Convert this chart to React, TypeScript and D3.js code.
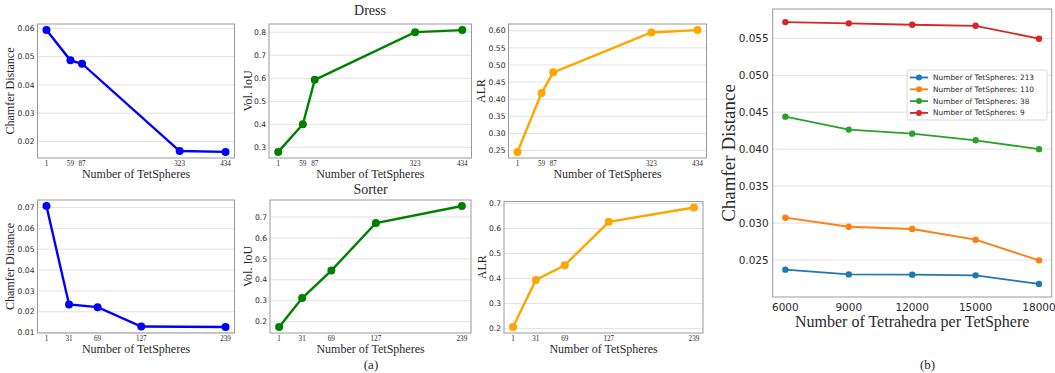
import React from "react";
import * as d3 from "d3";

// (a) number of TetSpheres per object
const dressCounts = [1, 59, 87, 323, 434];
const sorterCounts = [1, 31, 69, 127, 239];

const dressChamfer = [0.0594, 0.0487, 0.0475, 0.0166, 0.0163];
const dressIoU = [0.28, 0.4, 0.593, 0.8, 0.809];
const dressALR = [0.246, 0.4185, 0.4785, 0.595, 0.602];
const sorterChamfer = [0.0707, 0.0235, 0.0222, 0.0129, 0.0127];
const sorterIoU = [0.175, 0.313, 0.444, 0.671, 0.752];
const sorterALR = [0.2064, 0.3944, 0.4534, 0.6265, 0.684];

const dressChamferTicks = [0.02, 0.03, 0.04, 0.05, 0.06];
const iouDressTicks = [0.3, 0.4, 0.5, 0.6, 0.7, 0.8];
const alrDressTicks = [0.25, 0.3, 0.35, 0.4, 0.45, 0.5, 0.55, 0.6];
const sorterChamferTicks = [0.01, 0.02, 0.03, 0.04, 0.05, 0.06, 0.07];
const iouSorterTicks = [0.2, 0.3, 0.4, 0.5, 0.6, 0.7];
const alrSorterTicks = [0.2, 0.3, 0.4, 0.5, 0.6, 0.7];

// (b) tetrahedra per TetSphere
const tetraCounts = [6000, 9000, 12000, 15000, 18000];
const seriesNames = [
  "Number of TetSpheres: 213",
  "Number of TetSpheres: 110",
  "Number of TetSpheres: 38",
  "Number of TetSpheres: 9",
];
const cd213 = [0.02369, 0.02305, 0.02301, 0.02292, 0.02176];
const cd110 = [0.03072, 0.0295, 0.02919, 0.02774, 0.02495];
const cd38 = [0.0444, 0.04265, 0.0421, 0.0412, 0.04];
const cd9 = [0.0572, 0.05703, 0.05684, 0.0567, 0.05495];
const bTicks = [0.025, 0.03, 0.035, 0.04, 0.045, 0.05, 0.055];

const SERIF = "'Liberation Serif', 'Times New Roman', serif";
const SANS = "'DejaVu Sans', sans-serif";
const GRID = "#e2e2e2";
const FRAME = "#9a9a9a";
const TEXT = "#2a2a2a";

// matplotlib-style 5% margins
const padded = (vals: number[]) => {
  const [a, b] = d3.extent(vals) as [number, number];
  const p = (b - a) * 0.05;
  return [a - p, b + p];
};

type Box = { l: number; r: number; t: number; b: number };

function Panel({ box, xs, ys, yTicks, fmt, color, yLabel, yLabelX }: {
  box: Box; xs: number[]; ys: number[]; yTicks: number[]; fmt: string;
  color: string; yLabel: string; yLabelX: number;
}) {
  const x = d3.scaleLinear().domain(padded(xs)).range([box.l, box.r]);
  const y = d3.scaleLinear().domain(padded(ys)).range([box.b, box.t]);
  const line = d3.line<number>().x((_, i) => x(xs[i])).y(d => y(d));
  const f = d3.format(fmt);
  const cy = (box.t + box.b) / 2;
  return (
    <g>
      {yTicks.map(t => (
        <line key={t} x1={box.l} x2={box.r} y1={y(t)} y2={y(t)} stroke={GRID} strokeWidth={1} />
      ))}
      <rect x={box.l} y={box.t} width={box.r - box.l} height={box.b - box.t} fill="none" stroke={FRAME} strokeWidth={1} />
      {yTicks.map(t => (
        <text key={t} x={box.l - 3} y={y(t)} dy="0.35em" textAnchor="end" fontFamily={SANS} fontSize={7.6} fill={TEXT}>{f(t)}</text>
      ))}
      {xs.map(v => (
        <text key={v} x={x(v)} y={box.b + 7.6} textAnchor="middle" fontFamily={SERIF} fontSize={7.2} fill={TEXT}>{v}</text>
      ))}
      <path d={line(ys) || ""} fill="none" stroke={color} strokeWidth={2.4} />
      {ys.map((v, i) => (
        <circle key={i} cx={x(xs[i])} cy={y(v)} r={4} fill={color} />
      ))}
      <text x={(box.l + box.r) / 2} y={box.b + 19.6} textAnchor="middle" fontFamily={SERIF} fontSize={12} fill={TEXT}>Number of TetSpheres</text>
      <text transform={`translate(${yLabelX},${cy}) rotate(-90)`} textAnchor="middle" fontFamily={SERIF} fontSize={12} fill={TEXT}>{yLabel}</text>
    </g>
  );
}

function BigChart() {
  const box = { l: 772.7, r: 1051.7, t: 9, b: 297 };
  const all = [cd213, cd110, cd38, cd9];
  const colors = ["#1f77b4", "#ff7f0e", "#2ca02c", "#d62728"];
  const x = d3.scaleLinear().domain(padded(tetraCounts)).range([box.l, box.r]);
  const y = d3.scaleLinear().domain(padded(all.flat())).range([box.b, box.t]);
  const line = d3.line<number>().x((_, i) => x(tetraCounts[i])).y(d => y(d));
  const f = d3.format(".3f");
  const leg = { x: 907, y: 70, w: 140, h: 50 };
  return (
    <g>
      {bTicks.map(t => (
        <line key={t} x1={box.l} x2={box.r} y1={y(t)} y2={y(t)} stroke={GRID} strokeWidth={1} />
      ))}
      <rect x={box.l} y={box.t} width={box.r - box.l} height={box.b - box.t} fill="none" stroke={FRAME} strokeWidth={1} />
      {bTicks.map(t => (
        <text key={t} x={box.l - 4} y={y(t)} dy="0.35em" textAnchor="end" fontFamily={SANS} fontSize={10.5} fill={TEXT}>{f(t)}</text>
      ))}
      {tetraCounts.map(v => (
        <text key={v} x={x(v)} y={box.b + 14} textAnchor="middle" fontFamily={SANS} fontSize={10.5} fill={TEXT}>{v}</text>
      ))}
      {all.map((s, k) => (
        <g key={k}>
          <path d={line(s) || ""} fill="none" stroke={colors[k]} strokeWidth={1.8} />
          {s.map((v, i) => (
            <circle key={i} cx={x(tetraCounts[i])} cy={y(v)} r={3.2} fill={colors[k]} />
          ))}
        </g>
      ))}
      <text x={(box.l + box.r) / 2} y={326.5} textAnchor="middle" fontFamily={SERIF} fontSize={16} fill={TEXT}>Number of Tetrahedra per TetSphere</text>
      <text transform={`translate(735,${(box.t + box.b) / 2}) rotate(-90)`} textAnchor="middle" fontFamily={SERIF} fontSize={19} fill={TEXT}>Chamfer Distance</text>
      <rect x={leg.x} y={leg.y} width={leg.w} height={leg.h} rx={2} fill="white" fillOpacity={0.85} stroke="#d0d0d0" strokeWidth={0.8} />
      {seriesNames.map((n, k) => {
        const ly = leg.y + 7.5 + k * 11.8;
        return (
          <g key={n}>
            <line x1={leg.x + 3} x2={leg.x + 21} y1={ly} y2={ly} stroke={colors[k]} strokeWidth={1.8} />
            <circle cx={leg.x + 12} cy={ly} r={3} fill={colors[k]} />
            <text x={leg.x + 26} y={ly} dy="0.35em" fontFamily={SANS} fontSize={7.4} fill={TEXT}>{n}</text>
          </g>
        );
      })}
    </g>
  );
}

export default function App() {
  return (
    <svg width={1055} height={373} style={{ position: "absolute", left: 0, top: 0, background: "white" }}>
      <rect width={1055} height={373} fill="white" />
      <Panel box={{ l: 37.5, r: 234.5, t: 24, b: 158 }} xs={dressCounts} ys={dressChamfer} yTicks={dressChamferTicks} fmt=".2f" color="#0000ff" yLabel="Chamfer Distance" yLabelX={14} />
      <Panel box={{ l: 269, r: 471.5, t: 24, b: 158 }} xs={dressCounts} ys={dressIoU} yTicks={iouDressTicks} fmt=".1f" color="#008000" yLabel="Vol. IoU" yLabelX={251.5} />
      <Panel box={{ l: 508.5, r: 706.5, t: 24, b: 158 }} xs={dressCounts} ys={dressALR} yTicks={alrDressTicks} fmt=".2f" color="#ffa500" yLabel="ALR" yLabelX={485} />
      <Panel box={{ l: 37.5, r: 234.5, t: 200, b: 333 }} xs={sorterCounts} ys={sorterChamfer} yTicks={sorterChamferTicks} fmt=".2f" color="#0000ff" yLabel="Chamfer Distance" yLabelX={14} />
      <Panel box={{ l: 270, r: 471, t: 200, b: 333 }} xs={sorterCounts} ys={sorterIoU} yTicks={iouSorterTicks} fmt=".1f" color="#008000" yLabel="Vol. IoU" yLabelX={251.5} />
      <Panel box={{ l: 504, r: 703, t: 201.5, b: 333 }} xs={sorterCounts} ys={sorterALR} yTicks={alrSorterTicks} fmt=".1f" color="#ffa500" yLabel="ALR" yLabelX={486} />
      <text x={370} y={15} textAnchor="middle" fontFamily={SERIF} fontSize={14} fill={TEXT}>Dress</text>
      <text x={370.5} y={194} textAnchor="middle" fontFamily={SERIF} fontSize={14} fill={TEXT}>Sorter</text>
      <text x={371} y={369} textAnchor="middle" fontFamily={SERIF} fontSize={13} fill={TEXT}>(a)</text>
      <BigChart />
      <text x={927.5} y={369} textAnchor="middle" fontFamily={SERIF} fontSize={13} fill={TEXT}>(b)</text>
    </svg>
  );
}
